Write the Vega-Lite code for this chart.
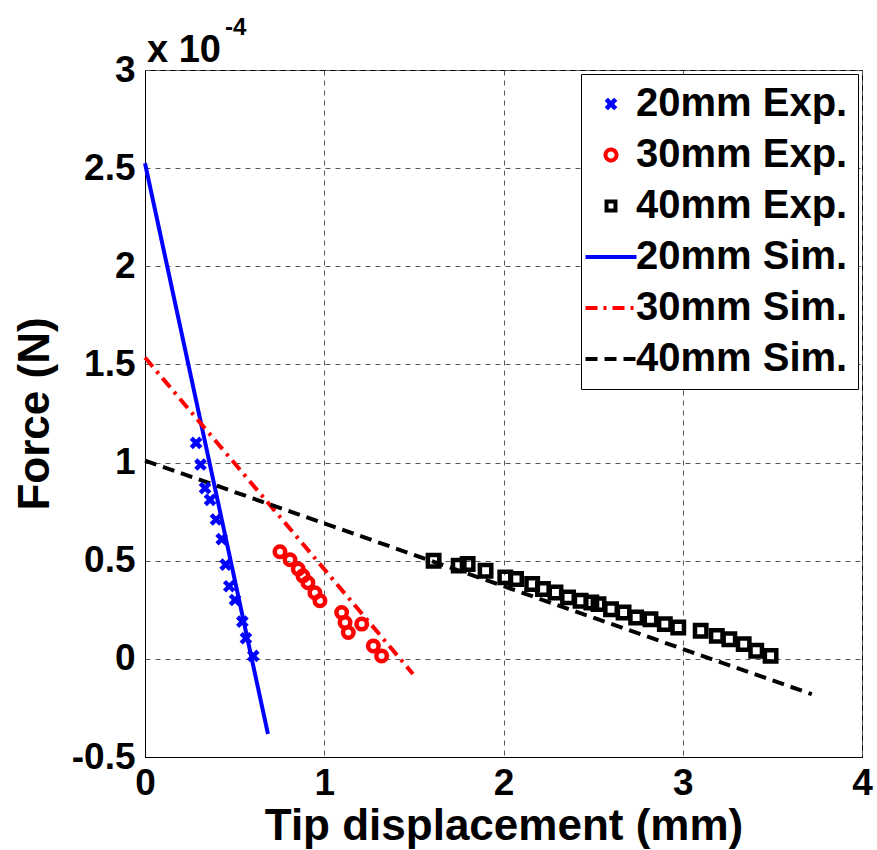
{
  "$schema": "https://vega.github.io/schema/vega-lite/v6.json",
  "width": 717,
  "height": 687,
  "autosize": "none",
  "padding": {"left": 145, "top": 70, "right": 15, "bottom": 93},
  "background": "white",
  "config": {
    "font": "Liberation Sans",
    "view": {"stroke": "black", "strokeWidth": 1},
    "axis": {
      "labelFont": "Liberation Sans", "labelFontWeight": "bold", "labelFontSize": 37, "labelColor": "black",
      "titleFont": "Liberation Sans", "titleFontWeight": "bold", "titleFontSize": 44, "titleColor": "black",
      "ticks": false, "domainColor": "black", "labelFlush": false, "labelOverlap": false,
      "labelExpr": "toString(datum.value)",
      "grid": true, "gridColor": "#555555", "gridDash": [5, 5], "gridWidth": 1
    }
  },
  "datasets": {
    "exp": [
      {"series": "20mm Exp.", "disp": 0.285, "force": 1.10},
      {"series": "20mm Exp.", "disp": 0.31, "force": 0.99},
      {"series": "20mm Exp.", "disp": 0.335, "force": 0.87},
      {"series": "20mm Exp.", "disp": 0.363, "force": 0.81},
      {"series": "20mm Exp.", "disp": 0.396, "force": 0.71},
      {"series": "20mm Exp.", "disp": 0.428, "force": 0.61},
      {"series": "20mm Exp.", "disp": 0.45, "force": 0.48},
      {"series": "20mm Exp.", "disp": 0.47, "force": 0.37},
      {"series": "20mm Exp.", "disp": 0.502, "force": 0.30},
      {"series": "20mm Exp.", "disp": 0.543, "force": 0.19},
      {"series": "20mm Exp.", "disp": 0.563, "force": 0.105},
      {"series": "20mm Exp.", "disp": 0.604, "force": 0.015},
      {"series": "30mm Exp.", "disp": 0.753, "force": 0.546},
      {"series": "30mm Exp.", "disp": 0.809, "force": 0.505},
      {"series": "30mm Exp.", "disp": 0.855, "force": 0.458},
      {"series": "30mm Exp.", "disp": 0.881, "force": 0.423},
      {"series": "30mm Exp.", "disp": 0.909, "force": 0.388},
      {"series": "30mm Exp.", "disp": 0.948, "force": 0.337},
      {"series": "30mm Exp.", "disp": 0.976, "force": 0.296},
      {"series": "30mm Exp.", "disp": 1.097, "force": 0.236},
      {"series": "30mm Exp.", "disp": 1.116, "force": 0.185},
      {"series": "30mm Exp.", "disp": 1.134, "force": 0.134},
      {"series": "30mm Exp.", "disp": 1.209, "force": 0.177},
      {"series": "30mm Exp.", "disp": 1.274, "force": 0.066},
      {"series": "30mm Exp.", "disp": 1.32, "force": 0.015},
      {"series": "40mm Exp.", "disp": 1.61, "force": 0.50},
      {"series": "40mm Exp.", "disp": 1.75, "force": 0.475},
      {"series": "40mm Exp.", "disp": 1.80, "force": 0.483},
      {"series": "40mm Exp.", "disp": 1.90, "force": 0.449},
      {"series": "40mm Exp.", "disp": 2.01, "force": 0.415},
      {"series": "40mm Exp.", "disp": 2.07, "force": 0.407},
      {"series": "40mm Exp.", "disp": 2.16, "force": 0.381},
      {"series": "40mm Exp.", "disp": 2.22, "force": 0.356},
      {"series": "40mm Exp.", "disp": 2.29, "force": 0.338},
      {"series": "40mm Exp.", "disp": 2.36, "force": 0.313},
      {"series": "40mm Exp.", "disp": 2.43, "force": 0.296},
      {"series": "40mm Exp.", "disp": 2.49, "force": 0.287},
      {"series": "40mm Exp.", "disp": 2.53, "force": 0.279},
      {"series": "40mm Exp.", "disp": 2.60, "force": 0.253},
      {"series": "40mm Exp.", "disp": 2.67, "force": 0.236},
      {"series": "40mm Exp.", "disp": 2.74, "force": 0.211},
      {"series": "40mm Exp.", "disp": 2.82, "force": 0.202},
      {"series": "40mm Exp.", "disp": 2.90, "force": 0.177},
      {"series": "40mm Exp.", "disp": 2.975, "force": 0.16},
      {"series": "40mm Exp.", "disp": 3.10, "force": 0.143},
      {"series": "40mm Exp.", "disp": 3.19, "force": 0.117},
      {"series": "40mm Exp.", "disp": 3.26, "force": 0.100},
      {"series": "40mm Exp.", "disp": 3.34, "force": 0.075},
      {"series": "40mm Exp.", "disp": 3.41, "force": 0.041},
      {"series": "40mm Exp.", "disp": 3.49, "force": 0.015}
    ],
    "sim": [
      {"series": "20mm Sim.", "disp": 0.0, "force": 2.525},
      {"series": "20mm Sim.", "disp": 0.686, "force": -0.383},
      {"series": "30mm Sim.", "disp": 0.0, "force": 1.535},
      {"series": "30mm Sim.", "disp": 1.495, "force": -0.077},
      {"series": "40mm Sim.", "disp": 0.0, "force": 1.01},
      {"series": "40mm Sim.", "disp": 3.72, "force": -0.18}
    ],
    "note": [{"text": "x 10", "exp": "-4"}]
  },
  "layer": [
    {
      "data": {"name": "sim"},
      "mark": {"type": "line", "strokeWidth": 4},
      "encoding": {
        "x": {"field": "disp", "type": "quantitative", "scale": {"domain": [0, 4], "nice": false, "zero": false},
              "axis": {"values": [0, 1, 2, 3, 4], "title": "Tip displacement (mm)", "labelPadding": 8, "titlePadding": 3}},
        "y": {"field": "force", "type": "quantitative", "scale": {"domain": [-0.5, 3], "nice": false, "zero": false},
              "axis": {"values": [-0.5, 0, 0.5, 1, 1.5, 2, 2.5, 3], "title": "Force (N)", "labelPadding": 10, "titlePadding": 14}},
        "color": {"field": "series", "type": "nominal",
          "scale": {"domain": ["20mm Exp.", "30mm Exp.", "40mm Exp.", "20mm Sim.", "30mm Sim.", "40mm Sim."],
                    "range": ["#0000ff", "#ff0000", "#000000", "#0000ff", "#ff0000", "#000000"]},
          "legend": {
            "title": null, "orient": "top-right", "offset": 4, "padding": 10,
            "strokeColor": "black", "fillColor": "white", "cornerRadius": 0,
            "labelFont": "Liberation Sans", "labelFontWeight": "bold", "labelFontSize": 40, "labelColor": "black",
            "labelOffset": 5, "labelLimit": 400,
            "symbolType": "stroke", "symbolSize": 2601, "symbolStrokeWidth": 4, "rowPadding": 11,
            "encode": {
              "symbols": {
                "update": {
                  "shape": {"signal": "datum.value === '20mm Exp.' ? 'M-1,-1L1,1M-1,1L1,-1' : datum.value === '30mm Exp.' ? 'circle' : datum.value === '40mm Exp.' ? 'square' : 'stroke'"},
                  "size": {"signal": "datum.value === '20mm Exp.' ? 90 : datum.value === '30mm Exp.' ? 120 : datum.value === '40mm Exp.' ? 80 : 2601"},
                  "strokeDash": {"signal": "datum.value === '30mm Sim.' ? [12,6,3,6] : datum.value === '40mm Sim.' ? [12,7] : [1,0]"},
                  "strokeWidth": {"signal": "datum.value === '20mm Exp.' ? 4.5 : datum.value === '30mm Exp.' ? 4 : datum.value === '40mm Exp.' ? 4 : 4"},
                  "fill": {"value": "transparent"}
                }
              }
            }
          }
        },
        "strokeDash": {"field": "series", "type": "nominal",
          "scale": {"domain": ["20mm Sim.", "30mm Sim.", "40mm Sim."], "range": [[1, 0], [12, 6, 3, 6], [12, 7]]},
          "legend": null}
      }
    },
    {
      "data": {"name": "exp"},
      "mark": {"type": "point", "filled": false, "strokeWidth": 4.5, "opacity": 1},
      "encoding": {
        "x": {"field": "disp", "type": "quantitative"},
        "y": {"field": "force", "type": "quantitative"},
        "color": {"field": "series", "type": "nominal"},
        "shape": {"field": "series", "type": "nominal",
          "scale": {"domain": ["20mm Exp.", "30mm Exp.", "40mm Exp."], "range": ["M-1,-1L1,1M-1,1L1,-1", "circle", "square"]},
          "legend": null},
        "size": {"field": "series", "type": "nominal",
          "scale": {"domain": ["20mm Exp.", "30mm Exp.", "40mm Exp."], "range": [90, 130, 64]},
          "legend": null}
      }
    },
    {
      "data": {"name": "note"},
      "mark": {"type": "text", "font": "Liberation Sans", "fontWeight": "bold", "fontSize": 38, "align": "left", "baseline": "alphabetic", "dx": 2, "dy": -8, "color": "black"},
      "encoding": {"x": {"datum": 0}, "y": {"datum": 3}, "text": {"field": "text"}}
    },
    {
      "data": {"name": "note"},
      "mark": {"type": "text", "font": "Liberation Sans", "fontWeight": "bold", "fontSize": 24, "align": "left", "baseline": "alphabetic", "dx": 80, "dy": -35, "color": "black"},
      "encoding": {"x": {"datum": 0}, "y": {"datum": 3}, "text": {"field": "exp"}}
    }
  ]
}
